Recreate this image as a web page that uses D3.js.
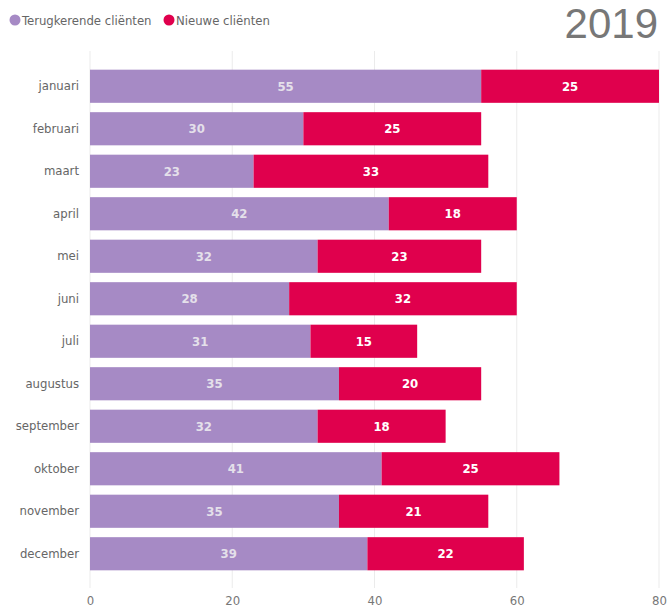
<!DOCTYPE html>
<html><head><meta charset="utf-8">
<script src="https://cdn.jsdelivr.net/npm/d3@7"></script>
<style>body{margin:0;background:#fff}</style>
</head><body>
<svg id="chart" width="670" height="611"></svg>
<script>
const months = ["januari","februari","maart","april","mei","juni","juli","augustus","september","oktober","november","december"];
const returning = [55,30,23,42,32,28,31,35,32,41,35,39];
const newClients = [25,25,33,18,23,32,15,20,18,25,21,22];
const seriesNames = ["Terugkerende cliënten","Nieuwe cliënten"];
const xTicks = [0,20,40,60,80];
const colors = ["#A68AC5","#E0004D"];

const svg = d3.select("#chart");
const x = d3.scaleLinear().domain([0,80]).range([90,659]);
const y = d3.scaleBand().domain(months).range([65,575]).paddingInner(0.22).paddingOuter(0.11);

// gridlines
svg.append("g").selectAll("line").data(xTicks).join("line")
  .attr("x1",d=>x(d)).attr("x2",d=>x(d)).attr("y1",51).attr("y2",588)
  .attr("stroke","#ebebeb").attr("stroke-width",1);

const rows = months.map((m,i)=>({m, a:returning[i], b:newClients[i]}));
const g = svg.append("g");
g.selectAll("rect.a").data(rows).join("rect").attr("class","a")
  .attr("x",x(0)).attr("y",d=>y(d.m)).attr("width",d=>x(d.a)-x(0)).attr("height",y.bandwidth())
  .attr("fill",colors[0]);
g.selectAll("rect.b").data(rows).join("rect").attr("class","b")
  .attr("x",d=>x(d.a)).attr("y",d=>y(d.m)).attr("width",d=>x(d.a+d.b)-x(d.a)).attr("height",y.bandwidth())
  .attr("fill",colors[1]);

const lblFont = "'DejaVu Sans Condensed','DejaVu Sans',sans-serif";
g.selectAll("text.a").data(rows).join("text").attr("class","a")
  .attr("x",d=>(x(0)+x(d.a))/2).attr("y",d=>y(d.m)+y.bandwidth()/2)
  .attr("dy","0.36em").attr("text-anchor","middle")
  .attr("font-family",lblFont).attr("font-stretch","condensed").attr("font-weight","bold").attr("font-size",13)
  .attr("fill","#e4e0ea").text(d=>d.a);
g.selectAll("text.b").data(rows).join("text").attr("class","b")
  .attr("x",d=>(x(d.a)+x(d.a+d.b))/2).attr("y",d=>y(d.m)+y.bandwidth()/2)
  .attr("dy","0.36em").attr("text-anchor","middle")
  .attr("font-family",lblFont).attr("font-stretch","condensed").attr("font-weight","bold").attr("font-size",13)
  .attr("fill","#ffffff").text(d=>d.b);

const yAxis = svg.append("g").attr("transform",`translate(${x(0)},0)`)
  .call(d3.axisLeft(y).tickSize(0).tickPadding(11));
yAxis.select(".domain").remove();
yAxis.selectAll("text").attr("font-family",lblFont).attr("font-size",13).attr("fill","#666");

const xAxis = svg.append("g").attr("transform","translate(0,590)")
  .call(d3.axisBottom(x).tickValues(xTicks).tickSize(0).tickPadding(6));
xAxis.select(".domain").remove();
xAxis.selectAll("text").attr("font-family",lblFont).attr("font-size",13).attr("fill","#777");

const leg = svg.append("g");
const legX = [15, 169];
seriesNames.forEach((n,i)=>{
  leg.append("circle").attr("cx",legX[i]).attr("cy",20).attr("r",5.5).attr("fill",colors[i]);
  leg.append("text").attr("x",legX[i]+7).attr("y",20).attr("dy","0.35em")
    .attr("font-family",lblFont).attr("font-size",13).attr("fill","#666").text(n);
});

svg.append("text").attr("x",658).attr("y",38).attr("text-anchor","end")
  .attr("font-family","'Liberation Sans',Arial,sans-serif").attr("font-size",42)
  .attr("fill","#777").text("2019");
</script>
</body></html>
